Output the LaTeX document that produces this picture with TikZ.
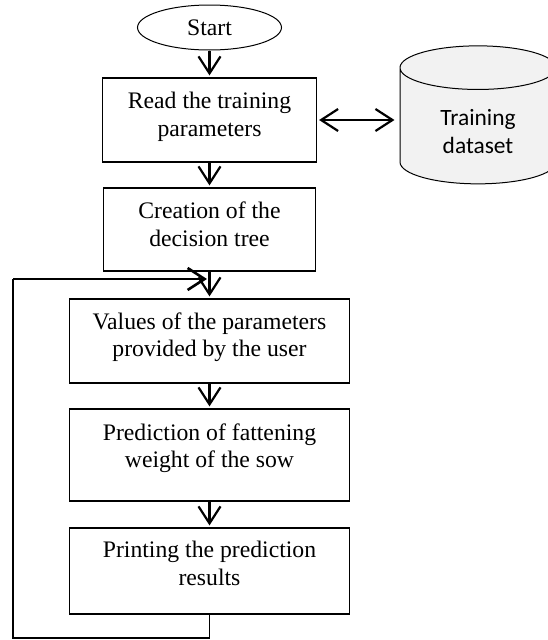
\documentclass[tikz,border=0pt]{standalone}
\usepackage{fontspec}
\setmainfont{Liberation Serif}
\newfontfamily\calibri{Carlito}
\usetikzlibrary{shapes.geometric,arrows.meta}

% two-line text, raised a little inside its box
\newcommand{\boxtext}[2]{\raisebox{#1}[0pt][0pt]{\begin{tabular}{@{}c@{}}#2\end{tabular}}}

\begin{document}
\begin{tikzpicture}[x=1pt,y=-1pt,
    font=\fontsize{23.7}{27.3}\selectfont,
    vhead/.tip={Straight Barb[length=17pt,width=22pt]},
    box/.style={draw, line width=1.2pt, minimum width=280pt, minimum height=84pt, inner sep=0pt},
    flow/.style={-vhead, line width=2.2pt, shorten >=2pt}]
    \useasboundingbox (0,0) rectangle (548,640);

    % Start of the flow
    \node[ellipse, draw, line width=1pt, minimum width=144pt, minimum height=45pt, inner sep=0pt] (start) at (209.5,27.5) {Start};

    % Steps of the flow
    \node[box, minimum width=214pt] (read) at (209.5,120) {\boxtext{-3.4pt}{Read the training\\parameters}};
    \node[box, minimum width=212pt, minimum height=83pt] (tree) at (209.5,229.5) {\boxtext{-3.9pt}{Creation of the\\decision tree}};
    \node[box] (values) at (209.5,341) {\boxtext{-3.1pt}{Values of the parameters\\provided by the user}};
    \node[box, minimum height=92pt] (predict) at (209.5,455) {\boxtext{0pt}{Prediction of fattening\\weight of the sow}};
    \node[box, minimum height=86pt] (print) at (209.5,571) {\boxtext{-1.4pt}{Printing the prediction\\results}};

    % Data store
    \node[cylinder, shape border rotate=90, draw, line width=1pt, fill=black!5, aspect=0.58,
          minimum width=156pt, minimum height=138pt, inner sep=0pt] (data) at (478,126)
          {\calibri\fontsize{23.4}{28.4}\selectfont\boxtext{-14pt}{Training\\dataset}};

    % Arrows between the steps
    \draw[flow] (start) -- (read);
    \draw[flow] (read) -- (tree);
    \draw[flow] (tree) -- (values);
    \draw[flow] (values) -- (predict);
    \draw[flow] (predict) -- (print);
    \draw[flow, vhead-vhead, shorten <=2pt, shorten >=5pt] (read.east) -- (read.east -| data.west);

    % Loop back for a new prediction
    \coordinate (loopbl) at (13,638);
    \coordinate (looptl) at (13,279);
    \coordinate (looptip) at (209,279);
    \draw[line width=1.2pt] (print.south) |- (loopbl) -- (looptl);
    \draw[flow, line width=2.6pt] (looptl) -- (looptip);
\end{tikzpicture}
\end{document}
